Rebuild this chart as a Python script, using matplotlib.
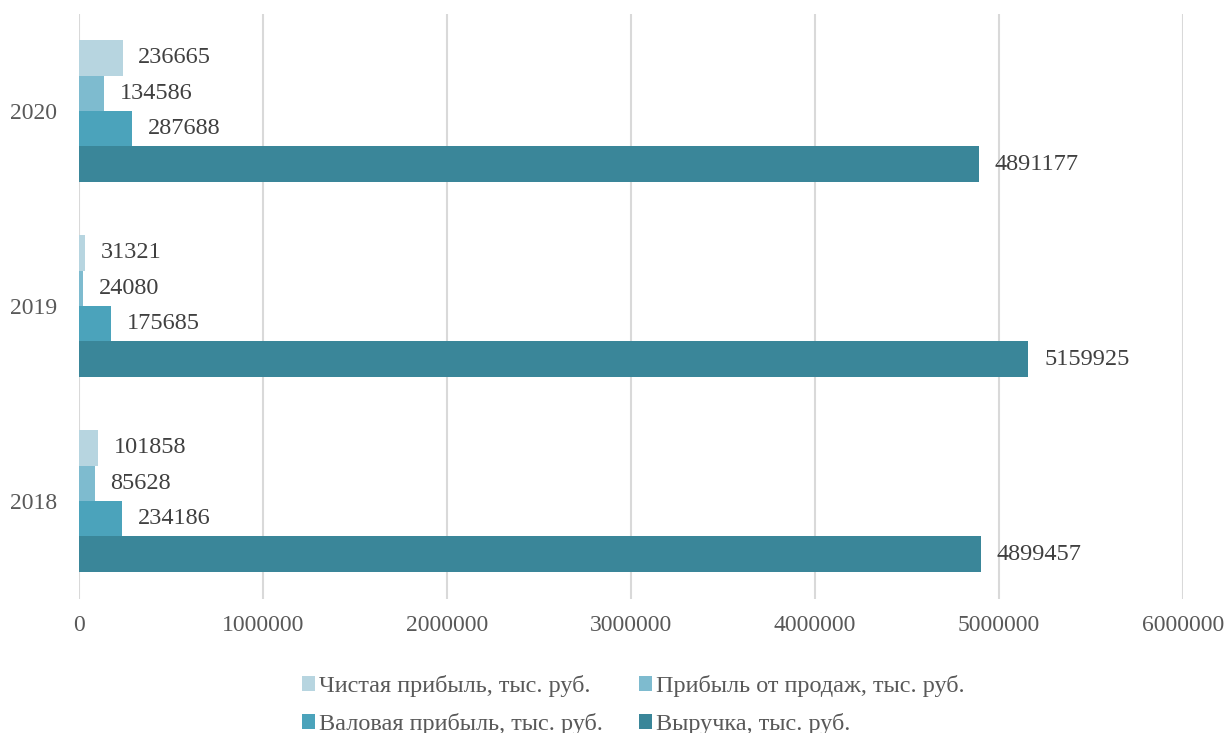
import matplotlib.pyplot as plt
import numpy as np

plt.rcParams['font.family'] = ['Liberation Serif', 'DejaVu Serif']

years = ['2018', '2019', '2020']
series_names = ['Чистая прибыль, тыс. руб.', 'Прибыль от продаж, тыс. руб.',
                'Валовая прибыль, тыс. руб.', 'Выручка, тыс. руб.']
net_profit = [101858, 31321, 236665]
sales_profit = [85628, 24080, 134586]
gross_profit = [234186, 175685, 287688]
revenue = [4899457, 5159925, 4891177]
colors = ['#b7d5e0', '#7ebbcf', '#4ba3bb', '#3a8699']

data = [net_profit, sales_profit, gross_profit, revenue]

fig = plt.figure(figsize=(12.27, 7.33), dpi=100)
ax = fig.add_axes([79 / 1227, 1 - 598.5 / 733, (1183 - 79) / 1227, 585 / 733])

n = len(data)
gap = 1.5
h = 1 / (n + gap)
y = np.arange(len(years))
for i, (vals, c) in enumerate(zip(data, colors)):
    # верхний ряд - первая серия
    pos = y + (n / 2 - i - 0.5) * h
    ax.barh(pos, vals, height=h, color=c, label=series_names[i], zorder=3)
    for p, v in zip(pos, vals):
        ax.text(v + 85000, p, str(v), va='center', ha='left', fontsize=17.5, color='#404040')

ax.set_xlim(0, 6000000)
ax.set_ylim(-0.5, 2.5)
ax.set_xticks(range(0, 6000001, 1000000))
ax.set_xticklabels([str(v) for v in range(0, 6000001, 1000000)])
ax.set_yticks(y)
ax.set_yticklabels(years)
ax.tick_params(length=0, labelsize=17, colors='#595959', pad=12)
ax.tick_params(axis='y', pad=16)
ax.grid(axis='x', color='#d9d9d9', linewidth=1.5, zorder=0)
for s in ax.spines.values():
    s.set_visible(False)

handles, labels = ax.get_legend_handles_labels()
order = [0, 2, 1, 3]  # чтобы легенда шла по строкам
fig.legend([handles[k] for k in order], [labels[k] for k in order], ncol=2,
           loc='center', bbox_to_anchor=(0.516, 0.038),
           frameon=False, fontsize=17.5, handlelength=0.55, handleheight=0.55,
           handletextpad=0.15, columnspacing=1.5, labelcolor='#595959', labelspacing=0.65)

plt.savefig('out.png', dpi=100)
